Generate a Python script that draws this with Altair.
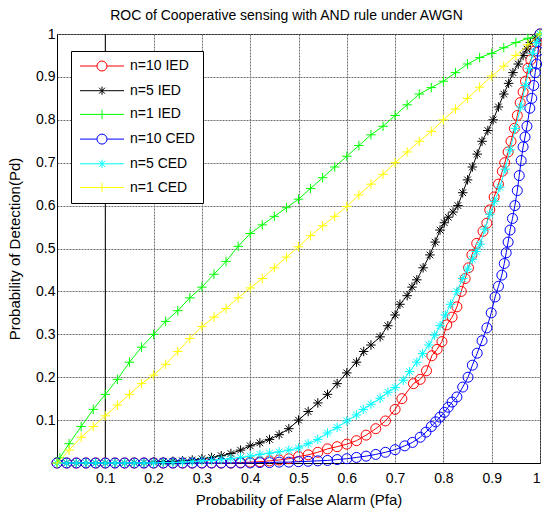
import altair as alt
import pandas as pd

FONT = "Liberation Sans"

series_names = ["n=10 IED", "n=5 IED", "n=1 IED", "n=10 CED", "n=5 CED", "n=1 CED"]
series_colors = ["#ff0000", "#000000", "#00ff00", "#0000ff", "#00ffff", "#ffff00"]

# n=10 IED (red, circles)
red_x = [0.0, 0.02, 0.04, 0.06, 0.08, 0.10, 0.12, 0.14, 0.16, 0.18, 0.20, 0.22, 0.24, 0.26, 0.28, 0.30,
         0.32, 0.34, 0.36, 0.38, 0.40, 0.42, 0.44, 0.46, 0.48, 0.50, 0.52, 0.54, 0.56, 0.58, 0.60, 0.62,
         0.64, 0.66, 0.68, 0.70, 0.714, 0.738, 0.752, 0.765, 0.776, 0.787, 0.797, 0.807, 0.818, 0.828,
         0.837, 0.845, 0.852, 0.859, 0.869, 0.882, 0.89, 0.896, 0.905, 0.914, 0.922, 0.927, 0.934, 0.94,
         0.947, 0.953, 0.959, 0.965, 0.97, 0.975, 0.981, 0.988, 0.994, 1.0]
red_y = [0, 0, 0, 0, 0, 0, 0, 0, 0, 0, 0, 0, 0, 0, 0, 0,
         0, 0, 0, 0.001, 0.002, 0.003, 0.005, 0.007, 0.01, 0.015, 0.019, 0.025, 0.033, 0.038, 0.044, 0.052,
         0.065, 0.08, 0.098, 0.125, 0.15, 0.185, 0.195, 0.215, 0.25, 0.265, 0.283, 0.322, 0.34, 0.364,
         0.40, 0.43, 0.455, 0.485, 0.512, 0.54, 0.559, 0.59, 0.62, 0.65, 0.68, 0.70, 0.725, 0.75,
         0.78, 0.81, 0.84, 0.865, 0.89, 0.92, 0.94, 0.96, 0.98, 1.0]

# n=5 IED (black, asterisks)
black_x = [0.0, 0.02, 0.04, 0.06, 0.08, 0.10, 0.12, 0.14, 0.16, 0.18, 0.20, 0.22, 0.24, 0.26, 0.28, 0.30,
           0.32, 0.34, 0.36, 0.38, 0.40, 0.42, 0.44, 0.46, 0.48, 0.50, 0.52, 0.54, 0.56, 0.58, 0.60, 0.62,
           0.635, 0.65, 0.669, 0.685, 0.70, 0.71, 0.725, 0.735, 0.745, 0.758, 0.772, 0.783, 0.793, 0.802,
           0.81, 0.82, 0.83, 0.84, 0.85, 0.86, 0.87, 0.88, 0.892, 0.903, 0.914, 0.925, 0.935, 0.944, 0.955,
           0.965, 0.973, 0.98, 0.99, 1.0]
black_y = [0, 0, 0, 0, 0, 0, 0, 0, 0.001, 0.001, 0.002, 0.003, 0.004, 0.005, 0.007, 0.01,
           0.013, 0.017, 0.022, 0.03, 0.04, 0.047, 0.055, 0.066, 0.08, 0.10, 0.12, 0.14, 0.16, 0.185, 0.21, 0.235,
           0.26, 0.275, 0.294, 0.32, 0.345, 0.37, 0.39, 0.41, 0.427, 0.455, 0.485, 0.515, 0.543, 0.56,
           0.573, 0.585, 0.60, 0.63, 0.66, 0.69, 0.72, 0.75, 0.775, 0.80, 0.83, 0.86, 0.885, 0.91, 0.93,
           0.95, 0.965, 0.98, 0.99, 1.0]

# n=1 IED (green, plus)
green_x = [0.0, 0.006, 0.025, 0.05, 0.075, 0.1, 0.125, 0.15, 0.175, 0.2, 0.225, 0.25, 0.275, 0.3, 0.325,
           0.35, 0.375, 0.4, 0.425, 0.45, 0.475, 0.5, 0.525, 0.55, 0.575, 0.6, 0.625, 0.65, 0.675, 0.7,
           0.725, 0.75, 0.775, 0.8, 0.825, 0.85, 0.875, 0.9, 0.925, 0.95, 0.975, 1.0]
green_y = [0.0, 0.012, 0.045, 0.085, 0.125, 0.16, 0.195, 0.235, 0.27, 0.30, 0.33, 0.355, 0.385, 0.41, 0.44,
           0.47, 0.505, 0.535, 0.555, 0.575, 0.595, 0.615, 0.64, 0.665, 0.69, 0.715, 0.74, 0.765, 0.785, 0.81,
           0.835, 0.86, 0.875, 0.89, 0.91, 0.93, 0.945, 0.955, 0.968, 0.98, 0.99, 1.0]

# n=10 CED (blue, circles)
blue_x = [0.0, 0.02, 0.04, 0.06, 0.08, 0.10, 0.12, 0.14, 0.16, 0.18, 0.20, 0.22, 0.24, 0.26, 0.28, 0.30,
          0.32, 0.34, 0.36, 0.38, 0.40, 0.42, 0.44, 0.46, 0.48, 0.50, 0.52, 0.54, 0.56, 0.58, 0.60, 0.62,
          0.64, 0.66, 0.68, 0.70, 0.72, 0.736, 0.752, 0.764, 0.775, 0.784, 0.793, 0.802, 0.81, 0.818, 0.828,
          0.84, 0.851, 0.86, 0.87, 0.88, 0.89, 0.899, 0.907, 0.914, 0.921, 0.926, 0.93, 0.934, 0.938, 0.943,
          0.948, 0.953, 0.957, 0.961, 0.965, 0.969, 0.973, 0.979, 0.983, 0.987, 0.99, 0.993, 0.996, 1.0]
blue_y = [0, 0, 0, 0, 0, 0, 0, 0, 0, 0, 0, 0, 0, 0, 0, 0,
          0, 0, 0, 0, 0, 0.001, 0.001, 0.002, 0.002, 0.003, 0.004, 0.005, 0.006, 0.008, 0.01, 0.013,
          0.016, 0.02, 0.025, 0.031, 0.04, 0.048, 0.06, 0.072, 0.085, 0.096, 0.107, 0.118, 0.13, 0.142, 0.154,
          0.177, 0.2, 0.228, 0.256, 0.285, 0.315, 0.35, 0.387, 0.412, 0.438, 0.465, 0.49, 0.515, 0.543, 0.57,
          0.60, 0.635, 0.67, 0.705, 0.737, 0.76, 0.785, 0.827, 0.85, 0.88, 0.91, 0.93, 0.96, 1.0]

# n=5 CED (cyan, asterisks)
cyan_x = [0.0, 0.02, 0.04, 0.06, 0.08, 0.10, 0.12, 0.14, 0.16, 0.18, 0.20, 0.22, 0.24, 0.26, 0.28, 0.30,
          0.32, 0.34, 0.36, 0.38, 0.40, 0.42, 0.44, 0.46, 0.48, 0.50, 0.52, 0.54, 0.56, 0.58, 0.60, 0.62,
          0.634, 0.65, 0.669, 0.685, 0.70, 0.717, 0.73, 0.745, 0.757, 0.77, 0.782, 0.793, 0.804, 0.815,
          0.828, 0.84, 0.85, 0.86, 0.868, 0.876, 0.886, 0.896, 0.906, 0.917, 0.928, 0.938, 0.949, 0.96,
          0.97, 0.978, 0.985, 0.993, 1.0]
cyan_y = [0, 0, 0, 0, 0, 0, 0, 0, 0, 0, 0, 0.001, 0.001, 0.002, 0.003, 0.005,
          0.006, 0.008, 0.01, 0.013, 0.016, 0.02, 0.023, 0.026, 0.03, 0.035, 0.045, 0.055, 0.07, 0.083, 0.098, 0.112,
          0.125, 0.137, 0.151, 0.165, 0.176, 0.193, 0.213, 0.235, 0.255, 0.275, 0.298, 0.32, 0.345, 0.37,
          0.40, 0.43, 0.452, 0.475, 0.493, 0.51, 0.545, 0.58, 0.61, 0.643, 0.685, 0.73, 0.78, 0.83,
          0.88, 0.92, 0.955, 0.98, 1.0]

# n=1 CED (yellow, plus)
yellow_x = [0.0, 0.025, 0.05, 0.075, 0.1, 0.125, 0.15, 0.175, 0.2, 0.225, 0.25, 0.275, 0.3, 0.325, 0.35,
            0.375, 0.4, 0.425, 0.45, 0.475, 0.5, 0.525, 0.55, 0.575, 0.6, 0.625, 0.65, 0.675, 0.7, 0.725,
            0.75, 0.775, 0.8, 0.825, 0.85, 0.875, 0.9, 0.925, 0.95, 0.975, 1.0]
yellow_y = [0.0, 0.03, 0.06, 0.085, 0.11, 0.135, 0.16, 0.185, 0.205, 0.23, 0.26, 0.29, 0.318, 0.34, 0.36,
            0.385, 0.408, 0.43, 0.455, 0.48, 0.504, 0.53, 0.553, 0.575, 0.598, 0.625, 0.65, 0.673, 0.70, 0.725,
            0.75, 0.773, 0.80, 0.825, 0.85, 0.876, 0.902, 0.925, 0.95, 0.975, 1.0]

tick_values = [0.1, 0.2, 0.3, 0.4, 0.5, 0.6, 0.7, 0.8, 0.9, 1.0]
vline_x = [0.1]

all_x = [red_x, black_x, green_x, blue_x, cyan_x, yellow_x]
all_y = [red_y, black_y, green_y, blue_y, cyan_y, yellow_y]

rows = []
for name, xs, ys in zip(series_names, all_x, all_y):
    for i, (xv, yv) in enumerate(zip(xs, ys)):
        rows.append({"series": name, "x": xv, "y": yv, "idx": i})
df = pd.DataFrame(rows)

CIRCLE = "circle"
ASTER = "M-1,0L1,0M0,-1L0,1M-0.7,-0.7L0.7,0.7M-0.7,0.7L0.7,-0.7"
PLUS = "M-1,0L1,0M0,-1L0,1"
plot_shapes = [CIRCLE, ASTER, PLUS, CIRCLE, ASTER, PLUS]

# legend keys: line sample with marker (unit = 5.5 px at symbolSize 121)
r = 0.91
LEG_CIRCLE = f"M-4,0L{-r},0M{r},0L4,0M{r},0A{r},{r},0,1,1,{-r},0A{r},{r},0,1,1,{r},0"
LEG_ASTER = "M-4,0L4,0M0,-0.75L0,0.75M-0.55,-0.55L0.55,0.55M-0.55,0.55L0.55,-0.55"
LEG_PLUS = "M-4,0L4,0M0,-0.85L0,0.85"
legend_shapes = [LEG_CIRCLE, LEG_ASTER, LEG_PLUS, LEG_CIRCLE, LEG_ASTER, LEG_PLUS]

xscale = alt.Scale(domain=[0, 1], nice=False, zero=False)
yscale = alt.Scale(domain=[0, 1], nice=False, zero=False)

X = alt.X("x:Q", scale=xscale,
          axis=alt.Axis(values=tick_values, format="~g", title="Probability of False Alarm (Pfa)",
                        labelPadding=8, titlePadding=7))
Y = alt.Y("y:Q", scale=yscale,
          axis=alt.Axis(values=tick_values, format="~g", title="Probability of Detection(Pd)",
                        labelPadding=2, titlePadding=13))

base = alt.Chart(df)

vline = alt.Chart(pd.DataFrame({"x": vline_x})).mark_rule(color="black", strokeWidth=1).encode(
    x=alt.X("x:Q", scale=xscale))

layers = [vline]
for name, col, shp in zip(series_names, series_colors, plot_shapes):
    sub = base.transform_filter(alt.datum.series == name)
    line = sub.mark_line(color=col, strokeWidth=1).encode(x=X, y=Y, order="idx:Q")
    size = 100 if shp == CIRCLE else 90
    pts = sub.mark_point(shape=shp, filled=False, color=col, size=size, strokeWidth=1, opacity=1).encode(x=X, y=Y)
    layers += [line, pts]

leg_def = dict(orient="none", legendX=14, legendY=17, title=None, fillColor="white",
               strokeColor="black", padding=8, symbolSize=121, symbolStrokeWidth=1,
               symbolOffset=16, labelFont=FONT, labelFontSize=14, labelOffset=21, rowPadding=9.7,
               labelColor="black", labelLimit=300)

legend_layer = base.mark_point(opacity=0, filled=False).encode(
    x=X, y=Y,
    color=alt.Color("series:N", scale=alt.Scale(domain=series_names, range=series_colors),
                    sort=series_names, legend=alt.Legend(**leg_def)),
    shape=alt.Shape("series:N", scale=alt.Scale(domain=series_names, range=legend_shapes),
                    sort=series_names, legend=alt.Legend(**leg_def)),
)
layers.append(legend_layer)

chart = alt.layer(*layers).properties(
    width=483, height=429,
    background="white",
    autosize=alt.AutoSizeParams(type="none"),
    padding={"left": 57, "top": 34, "right": 2, "bottom": 46},
    title=alt.TitleParams("ROC of Cooperative sensing with AND rule under AWGN", font=FONT,
                          fontSize=14, fontWeight="normal", color="black", dx=-12, offset=4),
).configure_view(stroke="black", strokeWidth=1).configure_axis(
    labelFont=FONT, labelFontSize=14, labelColor="black",
    titleFont=FONT, titleFontSize=15, titleFontWeight="normal", titleColor="black",
    domainColor="black", domainWidth=1, ticks=False, tickSize=0,
    gridColor="#6e6e6e", gridDash=[2, 1], gridWidth=1, gridOpacity=1,
)

chart.save("out.html", embed_options={"renderer": "svg", "actions": False})
